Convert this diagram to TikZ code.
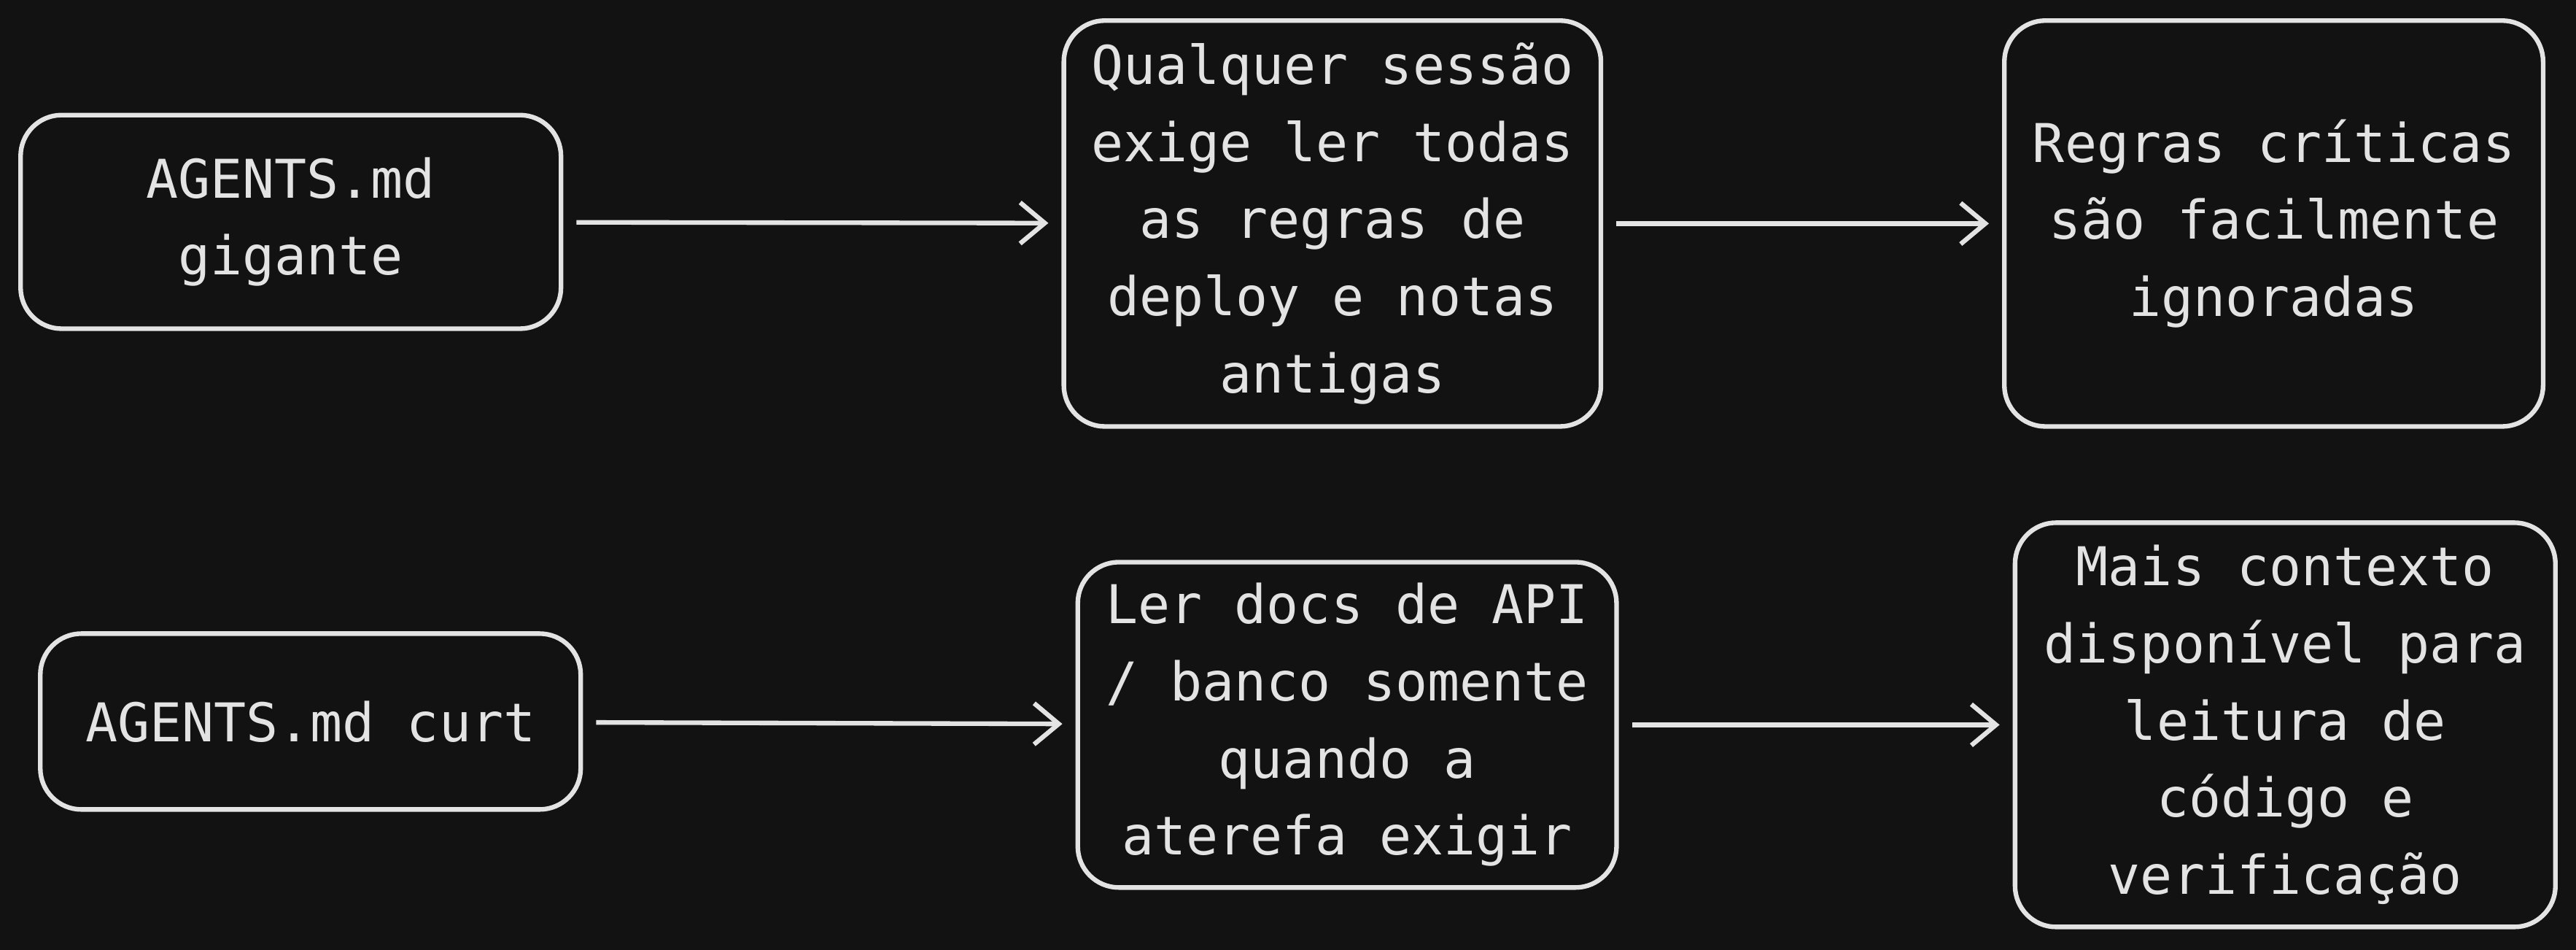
\documentclass[tikz,border=0pt]{standalone}
\usepackage{fontspec}
\setmonofont{DejaVu Sans Mono}
\usetikzlibrary{arrows.meta}
\definecolor{bgdark}{HTML}{121212}
\definecolor{inkline}{HTML}{E3E3E3}
\tikzset{
  stepbox/.style={draw=inkline, line width=1.6pt, rounded corners=0.5cm,
    text=inkline, align=center, inner sep=0pt,
    font=\ttfamily\fontsize{18.5}{26.7}\selectfont},
  flow/.style={draw=inkline, line width=1.6pt, shorten >=0.16cm, shorten <=0.16cm,
    -{Straight Barb[length=0.3cm, width=0.5cm, line width=1.6pt]}}
}
\begin{document}
\begin{tikzpicture}[x=0.02cm, y=-0.02cm]
\fill[bgdark] (0,0) rectangle (1568,578);
\useasboundingbox (0,0) rectangle (1568,578);
% linha de cima
\node[stepbox, minimum width=6.58cm, minimum height=2.6cm] (big) at (177,135) {AGENTS.md\\gigante};
\node[stepbox, minimum width=6.54cm, minimum height=4.94cm] (read) at (811,136) {Qualquer sessão\\exige ler todas\\as regras de\\deploy e notas\\antigas};
\node[stepbox, minimum width=6.56cm, minimum height=4.94cm] (lost) at (1384,136) {Regras críticas\\são facilmente\\ignoradas};
% linha de baixo
\node[stepbox, minimum width=6.58cm, minimum height=2.14cm] (short) at (189,439) {AGENTS.md curt};
\node[stepbox, minimum width=6.56cm, minimum height=3.96cm] (docs) at (820,441) {Ler docs de API\\/ banco somente\\quando a\\aterefa exigir};
\node[stepbox, minimum width=6.58cm, minimum height=4.92cm] (ctx) at (1391,441) {Mais contexto\\disponível para\\leitura de\\código e\\verificação};
\draw[flow] (big) -- (read);
\draw[flow] (read) -- (lost);
\draw[flow] (short) -- (docs);
\draw[flow] (docs) -- (ctx);
\end{tikzpicture}
\end{document}
